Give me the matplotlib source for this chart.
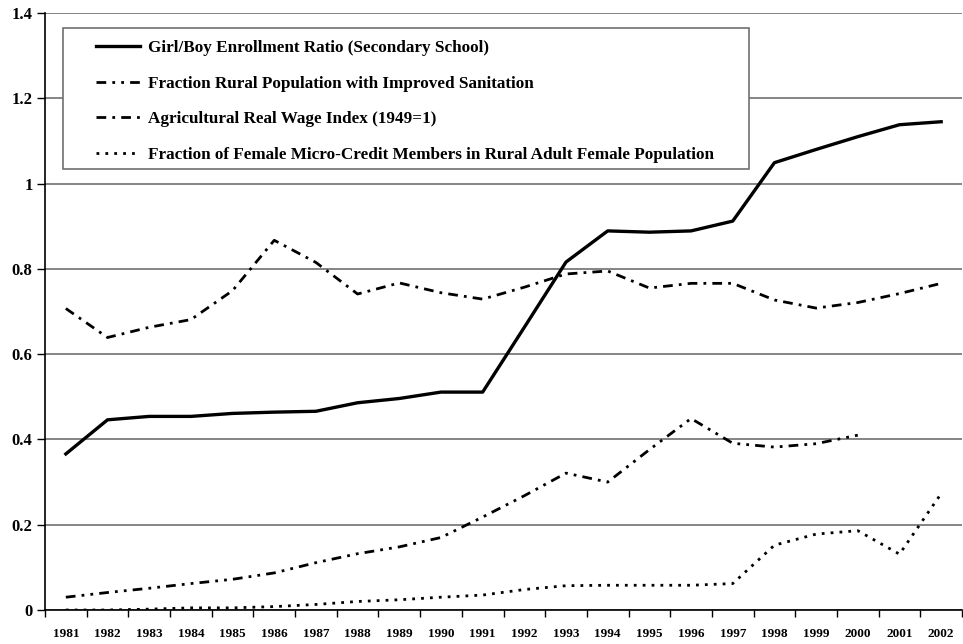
"""Bangladesh development indicators, 1981-2002."""

import matplotlib
matplotlib.use("Agg")
import matplotlib.pyplot as plt
from matplotlib.patches import Rectangle
import numpy as np

years = [str(y) for y in range(1981, 2003)]

girl_boy_ratio = [0.366, 0.446, 0.454, 0.454, 0.461, 0.464, 0.466, 0.486, 0.496, 0.511,
                  0.511, 0.663, 0.816, 0.889, 0.886, 0.889, 0.912, 1.049, 1.080, 1.110,
                  1.138, 1.145]
sanitation = [0.030, 0.041, 0.051, 0.062, 0.072, 0.087, 0.111, 0.132, 0.148, 0.170,
              0.218, 0.268, 0.321, 0.300, 0.376, 0.449, 0.391, 0.382, 0.390, 0.410,
              np.nan, np.nan]
wage_index = [0.707, 0.639, 0.663, 0.681, 0.749, 0.867, 0.815, 0.741, 0.767, 0.744,
              0.729, 0.757, 0.788, 0.795, 0.755, 0.766, 0.766, 0.727, 0.708, 0.721,
              0.742, 0.766]
micro_credit = [0.000, 0.000, 0.002, 0.005, 0.005, 0.008, 0.013, 0.020, 0.024, 0.030,
                0.035, 0.048, 0.057, 0.058, 0.058, 0.058, 0.062, 0.152, 0.178, 0.186,
                0.131, 0.273]

labels = ["Girl/Boy Enrollment Ratio (Secondary School)",
          "Fraction Rural Population with Improved Sanitation",
          "Agricultural Real Wage Index (1949=1)",
          "Fraction of Female Micro-Credit Members in Rural Adult Female Population"]

plt.rcParams["font.family"] = ["Liberation Serif", "DejaVu Serif"]
plt.rcParams["font.weight"] = "bold"

W, H = 963, 644
fig = plt.figure(figsize=(W / 100, H / 100), dpi=100)
ax = fig.add_axes([45 / W, 34 / H, 917 / W, 597 / H])

x = np.arange(len(years))
ax.plot(x, girl_boy_ratio, color="black", lw=2.4, label=labels[0])
ax.plot(x, sanitation, color="black", lw=2.0, linestyle=(0, (3.5, 2.2, 1, 2.2, 1, 2.2)), label=labels[1])
ax.plot(x, wage_index, color="black", lw=2.0, linestyle=(0, (3.5, 2.2, 1, 2.2)), label=labels[2])
ax.plot(x, micro_credit, color="black", lw=2.0, linestyle=(0, (1, 2.2)), label=labels[3])

ax.set_xlim(-0.5, len(years) - 0.5)
ax.set_ylim(0, 1.4)

# category labels at centers, tick marks between categories
ax.set_xticks(x)
ax.set_xticklabels(years, fontsize=9.5, fontweight="bold")
ax.tick_params(axis="x", which="major", length=0, pad=13)
ax.set_xticks(np.arange(-0.5, len(years)), minor=True)
ax.tick_params(axis="x", which="minor", length=5, width=1, direction="out")

ax.set_yticks(np.arange(0, 1.41, 0.2))
ax.set_yticklabels(["0", "0.2", "0.4", "0.6", "0.8", "1", "1.2", "1.4"],
                   fontsize=12, fontweight="bold")
ax.tick_params(axis="y", length=6, width=1, direction="out", pad=3)

ax.grid(True, axis="y", color="#707070", lw=1.2)
ax.set_axisbelow(True)
for side in ("top", "right"):
    ax.spines[side].set_visible(False)
ax.spines["left"].set_linewidth(1.2)
ax.spines["bottom"].set_linewidth(1.2)

# legend box drawn separately (wide side padding as in the original)
box = Rectangle((63 / W, 1 - 169 / H), (749 - 63) / W, (169 - 28) / H,
                transform=fig.transFigure, facecolor="white", edgecolor="#707070",
                lw=1.2, zorder=5)
fig.patches.append(box)

leg = fig.legend(*ax.get_legend_handles_labels(), loc="upper left",
                 bbox_to_anchor=(96 / W, 1 - 40 / H), prop={"weight": "bold", "size": 12.3},
                 handlelength=2.6, handletextpad=0.45, labelspacing=1.15,
                 borderpad=0, borderaxespad=0, frameon=False)
leg.set_zorder(6)

fig.savefig("out.png", dpi=100)
